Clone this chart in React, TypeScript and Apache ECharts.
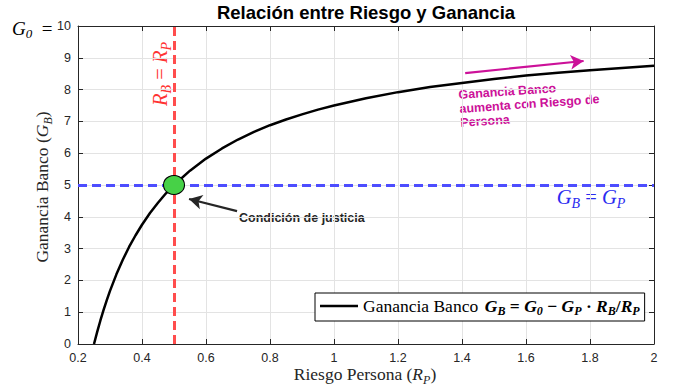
import React, { useEffect, useRef } from "react";
import * as echarts from "echarts";

// Curve: Riesgo Persona (R_P) vs Ganancia Banco (G_B)
const riesgoPersona = [0.25, 0.26, 0.27, 0.28, 0.29, 0.3, 0.32, 0.34, 0.36, 0.38, 0.4, 0.425, 0.45, 0.475, 0.5, 0.55, 0.6, 0.65, 0.7, 0.75, 0.8, 0.85, 0.9, 0.95, 1.0, 1.1, 1.2, 1.3, 1.4, 1.5, 1.6, 1.7, 1.8, 1.9, 2.0];
const gananciaBanco = [0, 0.38, 0.74, 1.07, 1.38, 1.67, 2.19, 2.65, 3.06, 3.42, 3.75, 4.12, 4.44, 4.74, 5.0, 5.45, 5.83, 6.15, 6.43, 6.67, 6.88, 7.06, 7.22, 7.37, 7.5, 7.73, 7.92, 8.08, 8.21, 8.33, 8.44, 8.53, 8.61, 8.68, 8.75];

// Reference lines and the fairness point
const rbEqualsRp = [0.5];
const gbEqualsGp = [5];
const fairnessPoint = [[0.5, 5]];

// Annotation arrows [start, end] in data units
const magentaArrow = [[1.41, 8.52], [1.78, 8.9]];
const blackArrow = [[0.697, 4.18], [0.547, 4.56]];

// Axis ranges
const xRange = { min: 0.2, max: 2, interval: 0.2 };
const yRange = { min: 0, max: 10, interval: 1 };

const TITLE = "Relación entre Riesgo y Ganancia";

const AXIS = "#262626";
const SERIF = '"Liberation Serif", "Times New Roman", serif';
const SANS = '"Liberation Sans", Arial, sans-serif';

// rich-text styles for italic math with a dropped subscript
const mathRich = (color: string, size: number) => ({
  m: { fontFamily: SERIF, fontStyle: "italic", fontSize: size, fill: color, color },
  s: { fontFamily: SERIF, fontStyle: "italic", fontSize: Math.round(size * 0.68), fill: color, color, padding: [Math.round(size * 0.6), 0, 0, 0] },
  o: { fontFamily: SERIF, fontSize: size, fill: color, color },
  t: { fontFamily: SERIF, fontSize: size, fill: color, color },
});

export default function App() {
  const ref = useRef<HTMLDivElement>(null);
  useEffect(() => {
    if (!ref.current) return;
    const chart = echarts.init(ref.current, null, { renderer: "svg" });
    const baseAxis = {
      type: "value",
      axisLine: { show: true, onZero: false, lineStyle: { color: AXIS, width: 1 } },
      axisTick: { show: true, inside: true, length: 5, lineStyle: { color: AXIS } },
    };
    const legendBold = (size: number) => ({ fontFamily: SERIF, fontStyle: "italic", fontWeight: "bold", fontSize: size, color: "#000" });
    const plainText = (size: number, color: string) => ({
      fontFamily: SANS,
      fontWeight: "bold",
      fontSize: size,
      fill: color,
    });
    const option: any = {
      animation: false,
      title: {
        text: TITLE,
        left: 366,
        top: 3,
        padding: 0,
        textAlign: "center",
        textStyle: { fontFamily: SANS, fontWeight: "bold", fontSize: 18.5, color: "#000" },
      },
      grid: { left: 78, top: 26, width: 576, height: 318, containLabel: false },
      xAxis: [
        {
          ...baseAxis,
          position: "bottom",
          ...xRange,
          axisLabel: { color: AXIS, fontFamily: SANS, fontSize: 12.5, margin: 7 },
          splitLine: { show: true, lineStyle: { color: "#e3e3e3", width: 1 } },
        },
        {
          ...baseAxis,
          position: "top",
          ...xRange,
          axisLabel: { show: false },
          splitLine: { show: false },
        },
      ],
      yAxis: [
        {
          ...baseAxis,
          position: "left",
          ...yRange,
          axisLabel: { color: AXIS, fontFamily: SANS, fontSize: 12.5, margin: 7 },
          splitLine: { show: true, lineStyle: { color: "#e3e3e3", width: 1 } },
        },
        {
          ...baseAxis,
          position: "right",
          ...yRange,
          axisLabel: { show: false },
          splitLine: { show: false },
        },
      ],
      legend: {
        left: 315,
        top: 293,
        padding: [4, 5, 4, 5],
        icon: "rect",
        itemWidth: 38,
        itemHeight: 2.5,
        itemGap: 5,
        itemStyle: { color: "#000", borderWidth: 0 },
        backgroundColor: "#fff",
        borderColor: "#000",
        borderWidth: 1,
        borderRadius: 0,
        data: ["curve"],
        formatter: () =>
          "{t|Ganancia Banco}  {m|G}{s|B}{o| = }{m|G}{s|0}{o| − }{m|G}{s|P}{o| · }{m|R}{s|B}{o|/}{m|R}{s|P}",
        textStyle: {
          rich: {
            t: { fontFamily: SERIF, fontSize: 17.5, color: "#000" },
            m: legendBold(17.5),
            s: { ...legendBold(12), padding: [10, 0, 0, 0] },
            o: { fontFamily: SERIF, fontWeight: "bold", fontSize: 17.5, color: "#000" },
          },
        },
      },
      series: [
        {
          name: "refs",
          type: "line",
          data: [],
          z: 1,
          silent: true,
          markLine: {
            silent: true,
            symbol: "none",
            label: { show: false },
            data: [
              ...rbEqualsRp.map((v) => ({ xAxis: v, lineStyle: { color: "#ff4d4d", width: 3, type: [9, 5] } })),
              ...gbEqualsGp.map((v) => ({ yAxis: v, lineStyle: { color: "#4d4dff", width: 3, type: [9, 5] } })),
            ],
          },
        },
        {
          name: "curve",
          type: "line",
          z: 3,
          data: riesgoPersona.map((x, i) => [x, gananciaBanco[i]]),
          smooth: false,
          symbol: "none",
          lineStyle: { color: "#000", width: 2.5, join: "round" },
          itemStyle: { color: "#000" },
        },
        {
          name: "point",
          type: "scatter",
          z: 5,
          data: fairnessPoint,
          symbol: "circle",
          symbolSize: [21, 19],
          itemStyle: { color: "#47d147", borderColor: "#000", borderWidth: 1, opacity: 1 },
        },
        {
          name: "arrows",
          type: "line",
          data: [],
          z: 4,
          silent: true,
          markLine: {
            silent: true,
            symbol: ["none", "arrow"],
            symbolSize: [11, 13],
            label: { show: false },
            data: [
              [
                { coord: magentaArrow[0], lineStyle: { color: "#cc1199", width: 2.2, type: "solid" } },
                { coord: magentaArrow[1] },
              ],
              [
                { coord: blackArrow[0], lineStyle: { color: AXIS, width: 2.2, type: "solid" } },
                { coord: blackArrow[1] },
              ],
            ],
          },
        },
      ],
      graphic: [
        {
          type: "text",
          x: 12,
          y: 28,
          style: {
            text: "{m|G}{s|0}{o|  =}",
            align: "left",
            verticalAlign: "middle",
            rich: mathRich("#000", 19),
          },
        },
        {
          type: "text",
          x: 42,
          y: 187,
          rotation: Math.PI / 2,
          style: {
            text: "{t|Ganancia Banco (}{m|G}{s|B}{t|)}",
            align: "center",
            verticalAlign: "middle",
            rich: mathRich(AXIS, 17.5),
          },
        },
        {
          type: "text",
          x: 365,
          y: 374,
          style: {
            text: "{t|Riesgo Persona (}{m|R}{s|P}{t|)}",
            align: "center",
            verticalAlign: "middle",
            rich: mathRich(AXIS, 17.5),
          },
        },
        {
          type: "text",
          x: 160,
          y: 74,
          rotation: Math.PI / 2,
          style: {
            text: "{m|R}{s|B}{o| = }{m|R}{s|P}",
            align: "center",
            verticalAlign: "middle",
            rich: mathRich("#ff3333", 20.5),
          },
        },
        {
          type: "text",
          x: 591,
          y: 197,
          style: {
            text: "{m|G}{s|B}{o| = }{m|G}{s|P}",
            align: "center",
            verticalAlign: "middle",
            rich: mathRich("#2b2bf0", 20.5),
          },
        },
        {
          type: "text",
          x: 239,
          y: 218,
          style: { text: "Condición de justicia", ...plainText(12.5, AXIS), align: "left", verticalAlign: "middle" },
        },
        {
          type: "text",
          x: 458,
          y: 88,
          rotation: 0.07,
          style: {
            text: "Ganancia Banco\naumenta con Riesgo de\nPersona",
            ...plainText(12.5, "#cc1199"),
            lineHeight: 14,
            align: "left",
            verticalAlign: "top",
          },
        },
      ],
    };
    chart.setOption(option);
    return () => chart.dispose();
  }, []);
  return <div ref={ref} style={{ position: "absolute", left: 0, top: 0, width: 674, height: 387 }} />;
}
